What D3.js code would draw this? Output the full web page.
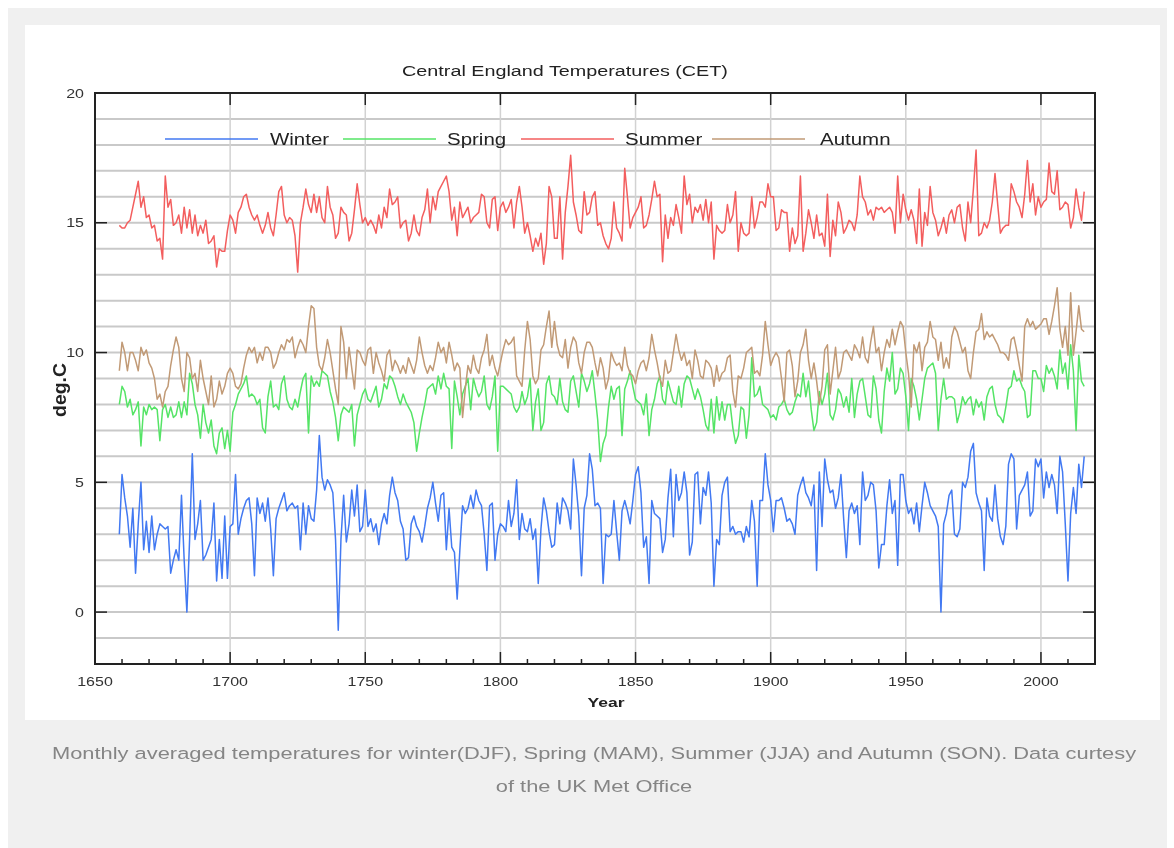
<!DOCTYPE html>
<html>
<head>
<meta charset="utf-8">
<script src="https://cdnjs.cloudflare.com/ajax/libs/d3/7.8.5/d3.min.js"></script>
<style>
  body { margin: 0; background: #ffffff; }
  #chartDiv svg { display: block; filter: blur(0.55px); }
</style>
</head>
<body>
<div id="chartDiv"></div>
<script>
// seasonal CET means, one value per year from 1659 to 2016
var firstYear = 1659;

var winter = [
  3.0, 5.3, 4.4, 3.7, 2.5, 4.0, 1.5, 3.4, 5.0, 2.4,
  3.5, 2.3, 3.7, 2.4, 3.0, 3.4, 3.3, 3.2, 3.3, 1.5,
  2.0, 2.4, 2.0, 4.5, 2.0, 0.0, 2.8, 6.1, 2.8, 3.4,
  4.3, 2.0, 2.2, 2.5, 2.8, 4.2, 1.2, 2.8, 1.3, 3.7,
  1.3, 3.3, 3.4, 5.3, 3.0, 3.6, 4.0, 4.3, 4.4, 3.4,
  1.4, 4.4, 3.8, 4.2, 3.5, 4.4, 3.2, 1.4, 3.6, 4.0,
  4.3, 4.6, 3.9, 4.1, 4.2, 4.0, 4.1, 2.4, 4.2, 3.0,
  4.1, 3.6, 3.5, 4.7, 6.8, 5.2, 4.7, 5.1, 4.9, 4.6,
  2.8, -0.7, 2.8, 4.5, 2.7, 3.4, 4.7, 3.7, 4.9, 3.1,
  3.3, 4.7, 3.3, 3.6, 3.1, 3.4, 2.6, 3.4, 3.8, 3.4,
  4.5, 5.2, 4.6, 4.3, 3.5, 3.2, 2.0, 2.1, 3.4, 3.7,
  3.3, 3.1, 2.7, 3.3, 4.0, 4.4, 5.0, 4.2, 3.5, 4.5,
  4.6, 2.4, 4.0, 2.5, 2.3, 0.5, 2.4, 4.1, 3.8, 4.0,
  4.5, 4.0, 4.7, 4.3, 4.1, 3.0, 1.6, 4.1, 4.2, 2.0,
  3.0, 3.4, 3.3, 3.1, 4.3, 3.3, 3.8, 5.1, 2.8, 3.8,
  3.2, 3.1, 3.6, 2.8, 3.2, 1.1, 3.2, 4.4, 3.9, 3.1,
  2.5, 2.6, 4.2, 3.4, 4.4, 4.2, 3.9, 3.2, 5.9, 4.9,
  3.7, 1.4, 4.0, 4.5, 6.1, 5.5, 4.1, 4.2, 4.0, 1.1,
  3.0, 2.9, 3.0, 4.3, 3.1, 2.0, 3.9, 4.3, 3.9, 3.4,
  4.3, 5.3, 5.6, 4.6, 2.5, 2.9, 1.1, 4.3, 3.8, 3.7,
  3.6, 2.3, 2.8, 4.4, 5.5, 2.9, 5.3, 4.3, 4.6, 5.4,
  4.6, 2.2, 2.7, 5.3, 5.4, 3.4, 4.8, 4.5, 5.4, 4.2,
  1.0, 2.8, 2.6, 4.5, 5.0, 5.2, 3.1, 3.3, 3.0, 3.1,
  3.1, 2.7, 3.3, 2.9, 4.3, 3.5, 1.0, 4.3, 4.3, 6.1,
  4.9, 4.3, 3.1, 4.3, 4.3, 4.4, 4.0, 3.5, 3.6, 3.4,
  3.0, 4.5, 4.9, 5.2, 4.6, 4.4, 4.1, 4.9, 1.6, 5.4,
  3.3, 5.9, 5.1, 4.6, 4.7, 4.0, 4.4, 5.3, 3.6, 2.1,
  3.9, 4.2, 3.8, 4.1, 2.6, 5.4, 4.3, 4.5, 5.0, 4.9,
  3.9, 1.7, 2.6, 2.6, 4.1, 5.1, 3.8, 4.3, 1.8, 5.3,
  5.3, 4.3, 3.8, 4.0, 3.4, 4.2, 3.1, 4.1, 5.0, 4.6,
  4.1, 3.9, 3.7, 3.3, 0.0, 3.4, 3.8, 4.5, 4.7, 3.0,
  2.9, 3.2, 5.0, 4.8, 5.2, 6.2, 6.5, 4.6, 4.2, 3.9,
  1.6, 4.4, 3.7, 3.5, 4.9, 3.6, 2.9, 2.6, 3.3, 5.7,
  6.1, 5.9, 3.2, 4.5, 4.7, 4.9, 5.4, 3.7, 3.9, 5.9,
  5.6, 5.9, 4.4, 5.4, 4.8, 5.3, 4.9, 3.8, 6.0, 5.4,
  3.4, 1.2, 3.8, 4.8, 3.8, 5.7, 4.8, 6.0
];

var spring = [
  8.0, 8.7, 8.5, 7.9, 8.2, 7.6, 7.8, 8.1, 6.4, 7.9,
  7.6, 8.0, 7.8, 7.9, 7.8, 6.6, 7.8, 8.0, 7.5, 7.9,
  7.5, 7.6, 8.1, 7.5, 8.1, 7.6, 9.2, 8.8, 8.0, 7.6,
  6.7, 8.0, 7.3, 6.9, 7.4, 6.4, 6.1, 6.9, 7.1, 6.3,
  7.0, 6.2, 7.7, 8.0, 8.4, 8.6, 8.8, 9.1, 8.3, 8.4,
  8.3, 8.0, 8.2, 7.1, 6.9, 8.3, 8.9, 7.9, 8.0, 7.8,
  8.8, 9.1, 8.2, 7.9, 7.8, 8.2, 7.9, 8.5, 9.0, 9.2,
  6.9, 9.1, 8.7, 8.9, 8.7, 9.3, 9.2, 9.1, 8.5, 8.1,
  7.5, 6.6, 7.6, 7.9, 7.8, 7.7, 8.0, 6.4, 7.6, 8.0,
  8.4, 8.6, 8.2, 8.1, 8.4, 8.7, 7.9, 8.2, 8.8, 8.6,
  9.1, 9.0, 8.7, 8.3, 8.0, 8.4, 8.1, 7.9, 7.7, 7.3,
  6.2, 6.9, 7.5, 8.0, 8.6, 8.7, 8.8, 8.4, 9.1, 8.6,
  9.2, 8.7, 8.6, 6.3, 8.9, 8.3, 7.6, 8.4, 8.7, 9.0,
  7.8, 9.0, 8.6, 8.3, 8.5, 9.1, 8.0, 7.8, 8.3, 9.1,
  6.2, 8.7, 8.7, 8.6, 8.5, 8.4, 7.9, 7.7, 7.9, 8.5,
  8.0, 8.3, 9.0, 7.0, 8.1, 8.6, 7.0, 7.3, 8.8, 9.1,
  8.4, 8.3, 8.0, 9.0, 8.1, 7.8, 7.7, 8.9, 9.1, 8.5,
  7.9, 9.2, 8.9, 8.5, 8.8, 9.3, 8.4, 7.4, 5.8, 6.5,
  6.8, 7.9, 8.7, 8.2, 8.6, 8.7, 6.8, 8.6, 8.9, 9.3,
  8.7, 8.2, 8.1, 8.0, 7.6, 8.4, 6.8, 7.8, 8.2, 8.8,
  9.1, 8.2, 8.0, 8.9, 8.5, 8.1, 8.0, 8.7, 7.9, 8.8,
  9.1, 9.0, 8.6, 8.2, 8.6, 8.3, 7.8, 7.2, 7.0, 8.2,
  6.9, 8.3, 7.4, 8.1, 7.4, 8.0, 8.0, 7.1, 6.5, 6.8,
  7.9, 7.8, 6.7, 7.6, 9.8, 8.3, 8.4, 8.7, 8.0, 7.9,
  7.8, 7.5, 7.6, 7.4, 7.9, 8.0, 8.2, 7.8, 7.6, 7.7,
  8.1, 8.4, 8.3, 9.2, 8.3, 8.9, 7.8, 7.0, 7.3, 8.5,
  8.0, 8.4, 9.2, 7.6, 7.4, 7.8, 8.6, 8.4, 7.9, 8.3,
  7.7, 9.0, 7.5, 8.4, 8.9, 9.0, 8.3, 7.6, 7.5, 9.1,
  8.6, 7.4, 6.9, 8.5, 9.4, 8.9, 10.0, 8.4, 8.6, 9.4,
  9.2, 8.3, 7.0, 9.0, 8.7, 8.2, 7.4, 8.2, 9.0, 9.4,
  9.5, 9.6, 9.2, 7.0, 8.2, 9.0, 8.2, 8.3, 8.3, 8.2,
  7.3, 7.7, 8.3, 8.0, 8.2, 8.3, 7.6, 8.2, 7.9, 8.1,
  7.4, 8.3, 8.6, 8.7, 8.0, 7.6, 7.5, 7.3, 7.9, 8.6,
  8.7, 9.3, 8.9, 9.0, 8.7, 8.5, 7.5, 7.6, 9.3, 9.3,
  9.0, 9.0, 8.5, 9.5, 9.2, 9.4, 9.1, 8.6, 10.1, 9.2,
  9.6, 8.6, 10.3, 9.3, 7.0, 9.9, 8.9, 8.7
];

var summer = [
  14.9, 14.8, 14.8, 15.0, 15.1, 15.6, 16.1, 16.6, 15.6, 16.0,
  15.2, 15.3, 14.8, 14.9, 14.3, 14.4, 13.6, 16.8, 15.6, 15.9,
  14.9, 15.0, 15.3, 14.6, 15.6, 14.8, 15.5, 14.6, 15.3, 14.5,
  14.9, 14.6, 15.1, 14.2, 14.3, 14.5, 13.3, 14.0, 13.9, 13.9,
  14.7, 15.3, 15.1, 14.6, 15.4, 15.6, 16.0, 16.1, 15.6, 15.3,
  15.1, 15.3, 14.9, 14.6, 14.9, 15.4, 14.8, 14.5, 15.3, 16.2,
  16.4, 15.3, 15.0, 15.2, 15.1, 14.5, 13.1, 15.0, 15.6, 16.3,
  15.7, 15.4, 16.1, 15.4, 16.0, 15.2, 15.0, 16.4, 15.6, 15.3,
  14.4, 14.6, 15.6, 15.4, 15.3, 14.3, 14.6, 15.5, 16.5, 15.7,
  15.0, 15.2, 14.9, 15.1, 14.9, 14.6, 15.3, 14.8, 15.6, 15.2,
  16.3, 15.7, 15.8, 16.0, 14.8, 15.0, 15.1, 14.3, 14.6, 15.3,
  14.7, 14.5, 15.2, 15.5, 16.3, 15.0, 16.0, 15.5, 16.2, 16.4,
  16.6, 16.8, 16.2, 15.1, 15.6, 14.5, 15.8, 15.2, 15.4, 15.6,
  15.0, 15.2, 15.3, 15.4, 16.1, 16.0, 15.0, 14.8, 15.9, 16.0,
  14.7, 15.6, 15.8, 15.4, 15.6, 15.9, 14.8, 15.8, 16.4, 15.6,
  14.6, 15.0, 14.5, 13.9, 14.4, 14.1, 14.6, 13.4, 14.2, 16.4,
  16.0, 14.4, 14.4, 16.0, 13.6, 15.4, 16.4, 17.6, 15.8, 15.3,
  14.7, 14.6, 16.2, 15.3, 15.4, 16.0, 16.2, 14.9, 15.0, 14.5,
  14.2, 14.0, 14.4, 15.8, 14.8, 14.6, 14.3, 17.1, 16.0, 14.8,
  15.2, 15.4, 15.6, 16.0, 14.8, 14.9, 15.3, 15.9, 16.6, 16.0,
  16.1, 13.5, 15.3, 14.4, 15.2, 14.9, 15.7, 15.2, 14.6, 16.8,
  15.7, 16.1, 15.0, 15.6, 15.4, 15.7, 15.1, 15.9, 15.0, 15.8,
  13.6, 14.9, 14.7, 14.6, 14.7, 15.7, 15.0, 15.3, 16.2, 13.9,
  15.0, 14.6, 14.5, 14.6, 16.0, 14.8, 15.2, 15.8, 15.8, 15.6,
  16.5, 16.0, 16.0, 14.7, 14.8, 15.5, 15.4, 15.4, 13.9, 14.8,
  14.2, 14.5, 16.8, 13.9, 14.6, 15.5, 15.0, 14.4, 15.3, 14.5,
  14.6, 14.1, 16.1, 13.7, 15.1, 14.5, 15.8, 15.4, 14.6, 14.8,
  15.1, 15.0, 14.7, 15.3, 16.8, 16.0, 15.8, 15.3, 15.5, 15.1,
  15.6, 15.5, 15.6, 15.4, 15.5, 15.6, 15.4, 14.6, 16.8, 15.0,
  16.1, 15.5, 15.1, 15.5, 15.1, 14.2, 16.3, 14.1, 15.4, 14.9,
  16.4, 15.4, 15.1, 14.5, 14.8, 15.2, 14.6, 15.3, 15.5, 15.0,
  15.6, 15.7, 14.8, 14.3, 15.8, 15.0, 16.3, 17.8, 14.5, 14.6,
  15.0, 14.8, 15.1, 15.8, 16.9, 15.7, 14.6, 14.8, 14.9, 14.9,
  16.5, 16.2, 15.8, 15.6, 15.2, 16.1, 17.4, 15.8, 16.5, 15.3,
  16.0, 15.6, 15.8, 15.9, 17.3, 16.2, 16.1, 17.0, 15.5, 15.6,
  15.8, 15.7, 14.8, 15.2, 16.3, 15.6, 15.1, 16.2
];

var autumn = [
  9.3, 10.4, 10.0, 9.3, 10.0, 10.0, 9.7, 9.3, 10.2, 9.9,
  10.1, 9.6, 9.4, 9.0, 8.2, 8.4, 7.9, 8.5, 8.7, 9.5,
  10.1, 10.6, 10.2, 9.0, 8.5, 10.0, 9.8, 9.0, 9.2, 8.5,
  9.7, 9.0, 8.5, 8.0, 9.1, 7.9, 8.2, 8.9, 8.4, 8.7,
  9.2, 9.4, 9.2, 8.7, 8.6, 8.8, 9.4, 9.9, 10.2, 10.0,
  10.2, 9.6, 10.0, 9.7, 10.2, 10.2, 10.0, 9.4, 9.6, 10.0,
  10.3, 10.1, 10.5, 10.4, 10.6, 9.8, 10.2, 10.5, 10.3, 10.0,
  11.0, 11.8, 11.7, 10.2, 9.5, 9.3, 9.8, 10.5, 10.0, 9.3,
  8.6, 8.0, 11.0, 10.4, 9.0, 10.2, 9.4, 8.6, 10.1, 10.0,
  9.7, 9.5, 10.1, 10.2, 9.2, 10.0, 9.6, 9.3, 8.9, 9.9,
  10.1, 9.3, 9.7, 9.5, 9.2, 9.5, 9.2, 9.8, 9.5, 9.2,
  9.7, 10.6, 10.0, 9.5, 9.2, 9.5, 9.3, 9.8, 10.4, 10.0,
  10.2, 9.6, 10.4, 9.9, 9.3, 9.6, 9.4, 7.5, 8.6, 9.5,
  9.2, 9.9, 9.4, 9.2, 9.8, 10.1, 10.7, 9.5, 9.9, 9.4,
  9.1, 9.6, 10.1, 10.5, 10.3, 10.4, 10.6, 9.1, 8.9, 8.7,
  10.1, 11.2, 10.5, 9.1, 8.8, 9.0, 10.1, 10.3, 11.0, 11.6,
  10.2, 11.2, 10.3, 9.9, 9.8, 10.5, 9.4, 10.2, 10.6, 10.4,
  9.6, 9.2, 10.0, 10.4, 10.4, 10.2, 9.6, 9.1, 9.8, 9.4,
  8.6, 9.0, 10.0, 9.7, 9.5, 9.6, 9.3, 10.2, 9.5, 9.2,
  9.1, 8.8, 9.3, 9.6, 9.7, 9.3, 9.8, 10.7, 10.1, 9.6,
  9.0, 8.7, 9.7, 9.2, 9.3, 10.0, 10.7, 10.1, 9.7, 10.0,
  9.5, 9.7, 9.0, 10.1, 9.7, 9.1, 9.0, 9.7, 9.6, 9.4,
  8.7, 9.5, 8.9, 9.2, 9.3, 9.8, 9.9, 8.5, 7.9, 9.1,
  9.0, 9.4, 10.0, 10.1, 10.2, 9.2, 9.3, 9.1, 9.9, 11.2,
  10.3, 9.5, 9.8, 10.0, 9.8, 9.0, 8.1, 10.0, 10.1, 9.5,
  8.3, 8.9, 10.0, 10.3, 10.9, 9.7, 9.0, 9.6, 8.9, 8.0,
  8.7, 10.1, 10.3, 8.4, 9.3, 10.2, 9.0, 9.3, 10.0, 10.1,
  9.9, 9.7, 10.3, 10.1, 9.8, 10.6, 9.8, 9.6, 10.4, 11.0,
  10.0, 10.2, 9.3, 10.0, 10.5, 10.2, 10.9, 10.3, 10.8, 11.2,
  11.0, 10.0, 9.2, 7.9, 10.3, 10.0, 10.4, 9.3, 10.2, 10.4,
  11.2, 10.6, 10.5, 9.7, 10.4, 9.4, 9.8, 9.4, 10.6, 11.0,
  10.8, 10.4, 10.0, 10.2, 9.3, 9.0, 10.0, 10.8, 10.9, 11.5,
  10.5, 10.8, 10.6, 10.7, 10.5, 10.3, 10.0, 10.0, 9.9, 9.7,
  10.5, 10.6, 10.1, 9.5, 8.9, 11.0, 11.3, 11.0, 11.2, 10.9,
  11.0, 11.1, 11.3, 11.3, 10.7, 11.2, 11.8, 12.5, 10.9, 10.2,
  11.0, 9.9, 12.3, 9.9, 10.8, 11.8, 10.9, 10.8
];

var seriesNames = ["Winter", "Spring", "Summer", "Autumn"];
var seriesColors = ["#4279f2", "#55e466", "#f35e5e", "#c19a76"];
var xTickYears = [1650, 1700, 1750, 1800, 1850, 1900, 1950, 2000];
var yTickValues = [0, 5, 10, 15, 20];
var chartTitle = "Central England Temperatures (CET)";
var xAxisLabelHeader = "Year";
var yAxisLabelHeader = "deg.C";
var captionLines = [
  "Monthly averaged temperatures for winter(DJF), Spring (MAM), Summer (JJA) and Autumn (SON). Data curtesy",
  "of the UK Met Office"
];

;(function() {

	var width = 1174;
	var height = 848;
	var plot = { left: 95, right: 1095, top: 93, bottom: 664 };
	var font = "'Liberation Sans', Arial, sans-serif";
	var wide = 1.28;   // the picture is drawn wider than it is tall

	var chart;

	init();

	function init() {
		chart = d3.select("#chartDiv").append("svg")
			.attr("width", width)
			.attr("height", height);

		drawPage();
		createScales();
		drawGrid();
		drawSeries();
		drawFrame();
		drawLabels();
		drawLegend();
	}

	function place(x, y) {
		return "translate(" + x + "," + y + ") scale(" + wide + ",1)";
	}

	// font size that makes a text w pixels wide once it is widened
	function fitFont(sel, w) {
		sel.style("font-size", "20px");
		var n = sel.node().getComputedTextLength();
		sel.style("font-size", (20 * w / (n * wide)).toFixed(2) + "px");
	}

	function drawPage() {
		chart.append("rect")
			.attr("x", 8).attr("y", 8)
			.attr("width", 1159).attr("height", height - 8)
			.attr("fill", "#f0f0f0");

		chart.append("rect")
			.attr("x", 25).attr("y", 25)
			.attr("width", 1135).attr("height", 695)
			.attr("fill", "#ffffff");

		var first = chart.append("text")
			.attr("transform", place(594, 759))
			.attr("text-anchor", "middle")
			.style("font-family", font)
			.attr("fill", "#858585")
			.text(captionLines[0]);
		fitFont(first, 1085);

		chart.append("text")
			.attr("transform", place(594, 792))
			.attr("text-anchor", "middle")
			.style("font-family", font)
			.style("font-size", first.style("font-size"))
			.attr("fill", "#858585")
			.text(captionLines[1]);
	}

	function createScales() {
		chart.xScale = d3.scaleLinear()
			.domain([1650, 2020])
			.range([plot.left, plot.right]);

		chart.yScale = d3.scaleLinear()
			.domain([-2, 20])
			.range([plot.bottom, plot.top]);
	}

	function drawGrid() {
		var grid = chart.append("g").attr("class", "grid");

		grid.selectAll(".hgrid")
			.data(d3.range(-1, 20))
			.enter().append("line")
				.attr("class", "hgrid")
				.attr("x1", plot.left).attr("x2", plot.right)
				.attr("y1", function(d) { return chart.yScale(d); })
				.attr("y2", function(d) { return chart.yScale(d); })
				.attr("stroke", "#c9c9c9")
				.attr("stroke-width", 2);

		grid.selectAll(".vgrid")
			.data(xTickYears.slice(1))
			.enter().append("line")
				.attr("class", "vgrid")
				.attr("x1", function(d) { return chart.xScale(d); })
				.attr("x2", function(d) { return chart.xScale(d); })
				.attr("y1", plot.top).attr("y2", plot.bottom)
				.attr("stroke", "#d2d2d2")
				.attr("stroke-width", 1.5);
	}

	function drawSeries() {
		var all = [winter, spring, summer, autumn];

		var line = d3.line()
			.x(function(d, i) { return chart.xScale(firstYear + i); })
			.y(function(d) { return chart.yScale(d); });

		chart.append("g").attr("class", "series")
			.selectAll("path")
			.data(all)
			.enter().append("path")
				.attr("d", function(d) { return line(d); })
				.attr("fill", "none")
				.attr("stroke", function(d, i) { return seriesColors[i]; })
				.attr("stroke-width", 1.5)
				.attr("stroke-linejoin", "round");
	}

	function drawFrame() {
		var axes = chart.append("g").attr("class", "axes");

		// major y ticks, both sides, pointing in
		axes.selectAll(".ytick")
			.data(yTickValues.concat(yTickValues))
			.enter().append("line")
				.attr("x1", function(d, i) { return i < yTickValues.length ? plot.left : plot.right; })
				.attr("x2", function(d, i) { return i < yTickValues.length ? plot.left + 12 : plot.right - 12; })
				.attr("y1", function(d) { return chart.yScale(d); })
				.attr("y2", function(d) { return chart.yScale(d); })
				.attr("stroke", "#222").attr("stroke-width", 1.5);

		// major x ticks, top and bottom
		axes.selectAll(".xtick")
			.data(xTickYears.concat(xTickYears))
			.enter().append("line")
				.attr("x1", function(d) { return chart.xScale(d); })
				.attr("x2", function(d) { return chart.xScale(d); })
				.attr("y1", function(d, i) { return i < xTickYears.length ? plot.bottom : plot.top; })
				.attr("y2", function(d, i) { return i < xTickYears.length ? plot.bottom - 12 : plot.top + 12; })
				.attr("stroke", "#222").attr("stroke-width", 1.5);

		// minor x ticks every ten years
		axes.selectAll(".xminor")
			.data(d3.range(1660, 2020, 10).filter(function(d) { return d % 50 !== 0; }))
			.enter().append("line")
				.attr("x1", function(d) { return chart.xScale(d); })
				.attr("x2", function(d) { return chart.xScale(d); })
				.attr("y1", plot.bottom).attr("y2", plot.bottom - 5)
				.attr("stroke", "#222").attr("stroke-width", 1.5);

		axes.append("rect")
			.attr("x", plot.left).attr("y", plot.top)
			.attr("width", plot.right - plot.left)
			.attr("height", plot.bottom - plot.top)
			.attr("fill", "none")
			.attr("stroke", "#222")
			.attr("stroke-width", 2);
	}

	function drawLabels() {
		chart.append("g").selectAll("text")
			.data(yTickValues)
			.enter().append("text")
				.attr("transform", function(d) { return place(plot.left - 11, chart.yScale(d) + 4.5); })
				.attr("text-anchor", "end")
				.style("font-family", font).style("font-size", "12.5px")
				.attr("fill", "#333")
				.text(function(d) { return d; });

		chart.append("g").selectAll("text")
			.data(xTickYears)
			.enter().append("text")
				.attr("transform", function(d) { return place(chart.xScale(d), plot.bottom + 22); })
				.attr("text-anchor", "middle")
				.style("font-family", font).style("font-size", "12.5px")
				.attr("fill", "#333")
				.text(function(d) { return d; });

		var t = chart.append("text")
			.attr("transform", place(565, 76))
			.attr("text-anchor", "middle")
			.style("font-family", font)
			.attr("fill", "#222")
			.text(chartTitle);
		fitFont(t, 326);

		var xl = chart.append("text")
			.attr("transform", place(606, 707))
			.attr("text-anchor", "middle")
			.style("font-family", font)
			.style("font-weight", "bold")
			.attr("fill", "#222")
			.text(xAxisLabelHeader);
		fitFont(xl, 37);

		chart.append("text")
			.attr("text-anchor", "middle")
			.attr("transform", "translate(66, 390) scale(" + wide + ",1) rotate(-90)")
			.style("font-family", font)
			.style("font-size", "14px")
			.style("font-weight", "bold")
			.attr("fill", "#222")
			.text(yAxisLabelHeader)
			.attr("textLength", 54)
			.attr("lengthAdjust", "spacingAndGlyphs");
	}

	function drawLegend() {
		var sampleX = [165, 343, 521, 712];
		var textX = [270, 447, 625, 820];
		var ly = 139;

		var key = chart.append("g").attr("class", "legend");

		key.selectAll("line")
			.data(seriesNames)
			.enter().append("line")
				.attr("x1", function(d, i) { return sampleX[i]; })
				.attr("x2", function(d, i) { return sampleX[i] + 93; })
				.attr("y1", ly).attr("y2", ly)
				.attr("stroke", function(d, i) { return seriesColors[i]; })
				.attr("stroke-width", 1.5);

		key.selectAll("text")
			.data(seriesNames)
			.enter().append("text")
				.attr("transform", function(d, i) { return place(textX[i], ly + 6); })
				.style("font-family", font).style("font-size", "16px")
				.attr("fill", "#222")
				.text(function(d) { return d; });
	}

})();
</script>
</body>
</html>
